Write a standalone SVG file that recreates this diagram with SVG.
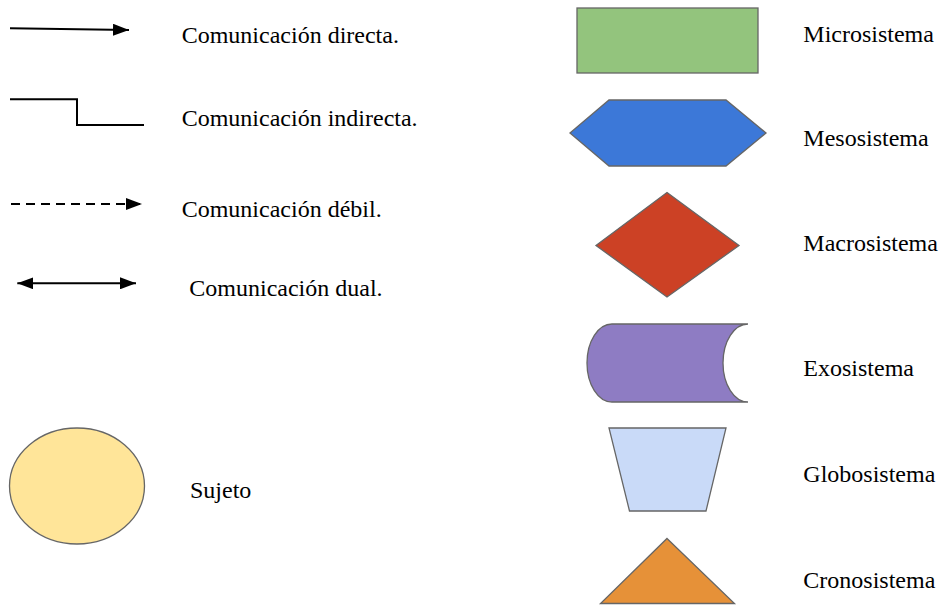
<svg xmlns="http://www.w3.org/2000/svg" width="941" height="608" viewBox="0 0 941 608">
<defs>
<marker id="ah" markerUnits="userSpaceOnUse" markerWidth="17" markerHeight="12" refX="16" refY="6" orient="auto">
<path d="M0,0 L16,6 L0,12 Z" fill="#000"/>
</marker>
<marker id="ahs" markerUnits="userSpaceOnUse" markerWidth="17" markerHeight="12" refX="16" refY="6" orient="auto-start-reverse">
<path d="M0,0 L16,6 L0,12 Z" fill="#000"/>
</marker>
</defs>
<style>
text{font-family:"Liberation Serif","Times New Roman",serif;font-size:24px;fill:#000}
.c{fill:none;stroke:#000;stroke-width:2}
.s{stroke:#666;stroke-width:1.3}
</style>
<rect width="941" height="608" fill="#fff"/>
<g id="connectors">
<line class="c" x1="10" y1="28.3" x2="129" y2="30" marker-end="url(#ah)"/>
<polyline class="c" points="10,99.3 77,99.3 77,125 144,125"/>
<line class="c" x1="11" y1="204" x2="142" y2="204" stroke-dasharray="9,6" marker-end="url(#ah)"/>
<line class="c" x1="17.3" y1="283.3" x2="136" y2="283.3" marker-start="url(#ahs)" marker-end="url(#ahs)"/>
</g>
<g id="legend-text" font-family="Liberation Serif, serif">
<text x="181.7" y="42.7">Comunicación directa.</text>
<text x="181.7" y="125.7">Comunicación indirecta.</text>
<text x="181.7" y="216.7">Comunicación débil.</text>
<text x="189.3" y="295.7">Comunicación dual.</text>
</g>
<g id="sujeto">
<ellipse class="s" cx="77" cy="486" rx="67.5" ry="58" fill="#ffe599"/>
<text x="190" y="498.3" font-size="23">Sujeto</text>
</g>
<g id="microsistema">
<rect class="s" x="577" y="8" width="181" height="65" fill="#93c47d"/>
<text x="803.3" y="41.7">Microsistema</text>
</g>
<g id="mesosistema">
<polygon class="s" points="570,133 609,100 726,100 766,133 726,166 609,166" fill="#3c78d8"/>
<text x="803.3" y="145.7">Mesosistema</text>
</g>
<g id="macrosistema">
<polygon class="s" points="667,192.5 739,245.5 667,297 596,245.5" fill="#cc4125"/>
<text x="803.3" y="250.7">Macrosistema</text>
</g>
<g id="exosistema">
<path class="s" d="M748,324 L612,324 A25,39 0 0 0 612,402 L748,402 A25,39 0 0 1 748,324 Z" fill="#8e7cc3"/>
<text x="803.3" y="375.7">Exosistema</text>
</g>
<g id="globosistema">
<polygon class="s" points="609,428 726,428 706,511 629.5,511" fill="#c9daf8"/>
<text x="803.3" y="482.3">Globosistema</text>
</g>
<g id="cronosistema">
<polygon class="s" points="667,538.5 734.5,603.5 600.5,603.5" fill="#e69138"/>
<text x="803.3" y="588.3">Cronosistema</text>
</g>
</svg>
